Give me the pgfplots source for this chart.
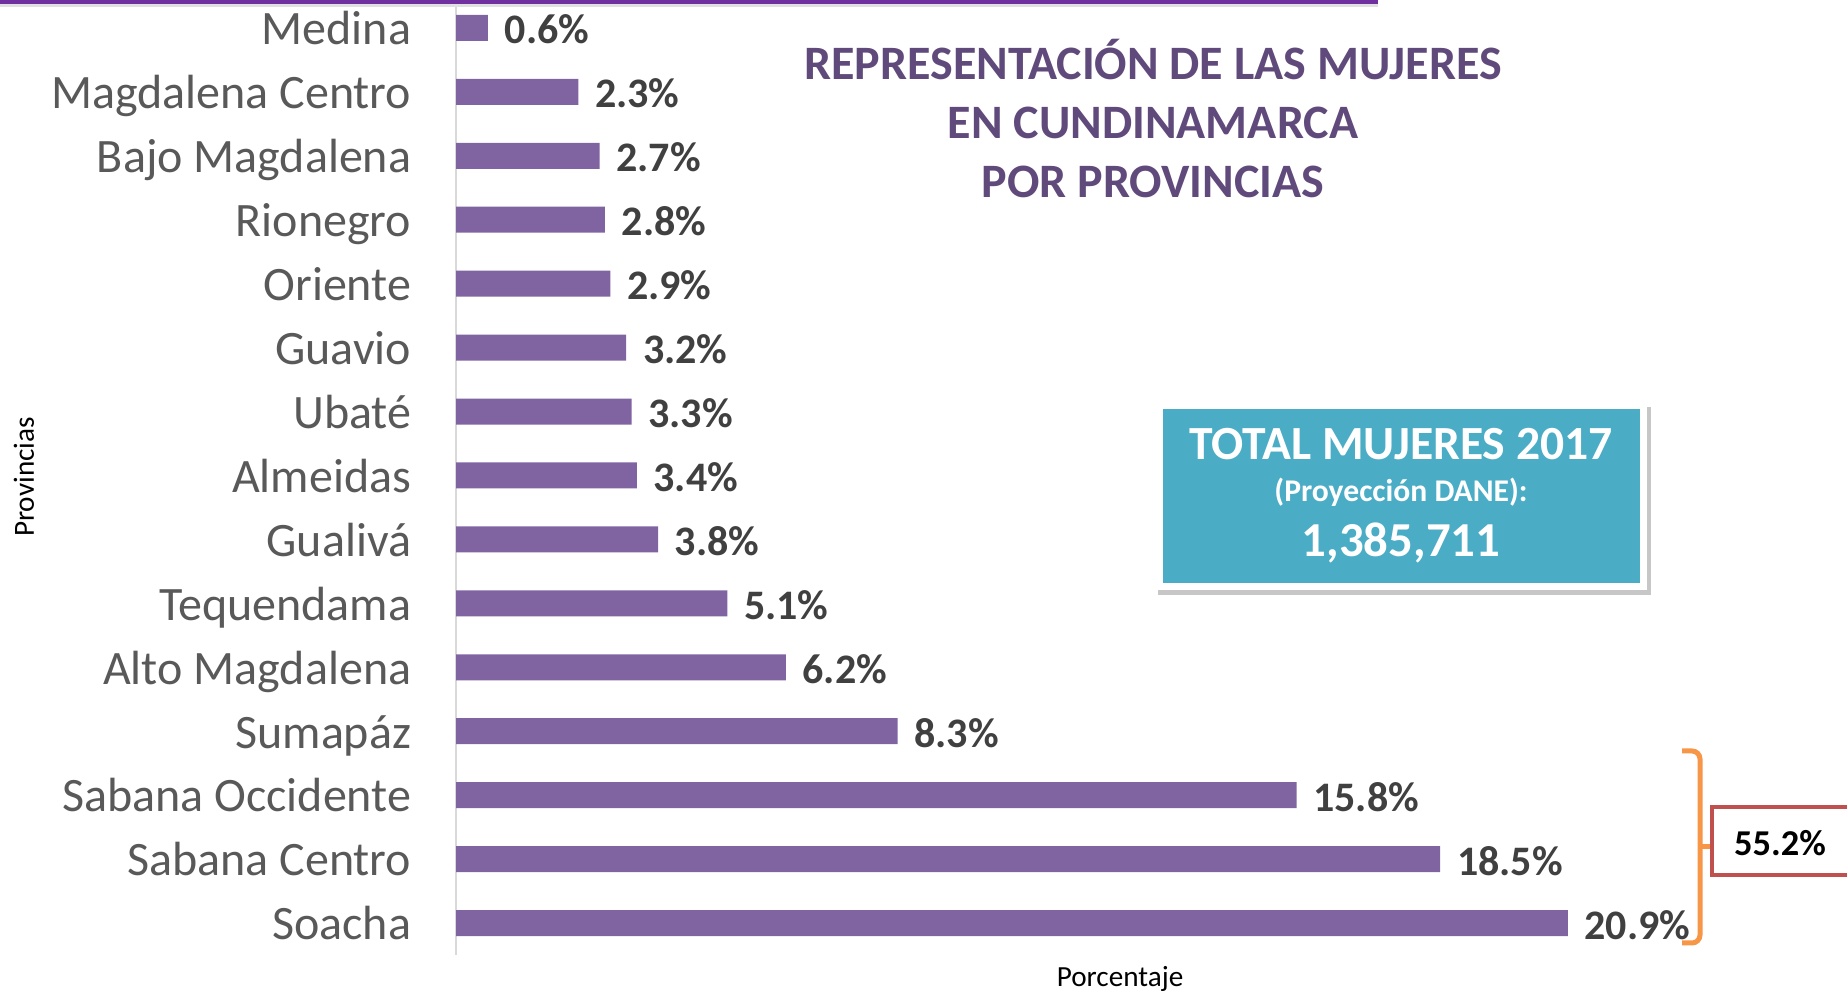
\documentclass[border=0pt]{standalone}
\usepackage{pgfplots}
\pgfplotsset{compat=1.18}
\usepackage{pgfplotstable}
\usepackage{fontspec}
\setmainfont{Carlito}
\definecolor{barpurple}{HTML}{8064A2}
\definecolor{titlepurple}{HTML}{604A7B}
\definecolor{topline}{HTML}{7030A0}
\definecolor{boxblue}{HTML}{4BACC6}
\definecolor{lblgray}{HTML}{595959}
\definecolor{valgray}{HTML}{404040}
\definecolor{brorange}{HTML}{F79646}
\definecolor{boxred}{HTML}{C0504D}
\definecolor{axgray}{HTML}{D9D9D9}

\pgfplotstableread{
idx val
0 20.9
1 18.5
2 15.8
3 8.3
4 6.2
5 5.1
6 3.8
7 3.4
8 3.3
9 3.2
10 2.9
11 2.8
12 2.7
13 2.3
14 0.6
}\datatable

\begin{document}
\begin{tikzpicture}
\path[use as bounding box] (0,0) rectangle (461.75pt,248.25pt);
\begin{axis}[
  at={(114pt,9.5pt)}, anchor=south west,
  scale only axis, width=332.5pt, height=238.8pt,
  xmin=0, xmax=25, ymin=-0.5, ymax=14.44,
  xbar, bar width=6.5pt, bar shift=0pt,
  axis x line=none, axis y line*=left,
  y axis line style={draw=axgray, line width=0.5pt, -},
  ytick={0,...,14},
  yticklabels={Soacha, Sabana Centro, Sabana Occidente, Sumapáz, Alto Magdalena, Tequendama, Gualivá, Almeidas, Ubaté, Guavio, Oriente, Rionegro, Bajo Magdalena, Magdalena Centro, Medina},
  major tick length=0pt,
  yticklabel style={font=\fontsize{12}{14}\selectfont, text=lblgray, inner sep=0pt, anchor=base east, xshift=-11pt, yshift=-4.2pt},
  point meta=x,
  nodes near coords={\pgfmathprintnumber[fixed,fixed zerofill,precision=1,assume math mode=true]{\pgfplotspointmeta}\%},
  every node near coord/.append style={font=\bfseries\fontsize{10.5}{12}\selectfont, text=valgray, anchor=base west, inner sep=0pt, xshift=4pt, yshift=-4pt},
  clip=false,
]
\addplot[fill=barpurple, draw=none] table[x=val,y=idx]{\datatable};
\end{axis}
\begin{scope}[x=0.25pt, y=-0.25pt, yshift=248.25pt]
  % axis titles
  \node[font=\fontsize{7.3}{9}\selectfont, text=black] at (1120,979) {Porcentaje};
  \node[font=\fontsize{7.3}{9}\selectfont, text=black, rotate=90] at (24,477) {Provincias};
  % top line
  \fill[black!12] (0,3) rectangle (1378,7);
  \draw[topline, line width=0.9pt] (0,1.8) -- (1378,1.8);
  % title
  \node[align=center, text=titlepurple, font=\bfseries\fontsize{12}{14.75}\selectfont] at (1153,118.5) {REPRESENTACIÓN DE LAS MUJERES\\EN CUNDINAMARCA\\POR PROVINCIAS};
  % total box
  \fill[black!22] (1158,407) rectangle (1651,595);
  \fill[white] (1155,402) rectangle (1647,590);
  \fill[boxblue] (1163,409) rectangle (1640,583);
  \node[text=white, font=\bfseries\fontsize{11.9}{14}\selectfont, anchor=base] at (1401,460) {TOTAL MUJERES 2017};
  \node[text=white, font=\bfseries\fontsize{7.9}{10}\selectfont, anchor=base] at (1401,502) {(Proyección DANE):};
  \node[text=white, font=\bfseries\fontsize{12.2}{14}\selectfont, anchor=base] at (1401,557) {1,385,711};
  % bracket
  \draw[brorange, line width=1.25pt, rounded corners=2pt] (1682,751) -- (1700,751) -- (1700,943) -- (1682,943);
  \draw[brorange, line width=1.25pt] (1700,847) -- (1712,847);
  \draw[boxred, line width=0.9pt, fill=white] (1712,807) rectangle (1852,875);
  \node[text=black, font=\bfseries\fontsize{9.1}{11}\selectfont] at (1780,843) {55.2\%};
\end{scope}
\end{tikzpicture}
\end{document}
